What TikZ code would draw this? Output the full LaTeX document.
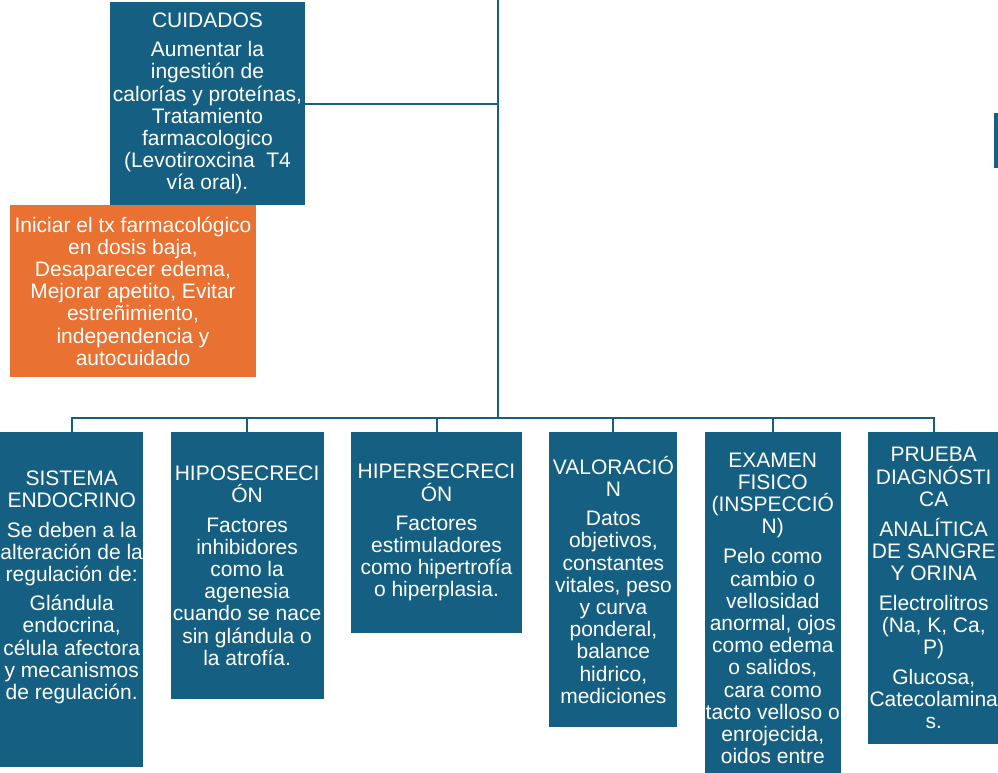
\documentclass[tikz,border=0pt]{standalone}
\usepackage{fontspec}
\setmainfont{Liberation Sans}
\usetikzlibrary{positioning}
\definecolor{accblue}{HTML}{156082}
\definecolor{accorange}{HTML}{E97132}

\begin{document}
\begin{tikzpicture}[x=1pt,y=-1pt,node distance=27pt,
  bluebox/.style={fill=accblue,text=white,align=center,inner sep=0pt,font=\fontsize{21}{22.2}\selectfont},
  orangebox/.style={bluebox,fill=accorange},
  link/.style={draw=accblue,line width=2pt}]

      \useasboundingbox (0,0) rectangle (998,772);

      \node[bluebox,minimum width=195pt,minimum height=203pt] (cui) at (207.5,103.5) {CUIDADOS\\[7pt]Aumentar la\\ingestión de\\calorías y proteínas,\\Tratamiento\\farmacologico\\(Levotiroxcina\ \ T4\\vía oral).};
      \node[orangebox,minimum width=246pt,minimum height=172pt] (meta) at (133,291) {Iniciar el tx farmacológico\\en dosis baja,\\Desaparecer edema,\\Mejorar apetito, Evitar\\estreñimiento,\\independencia y\\autocuidado};
      \node[bluebox,minimum width=20pt,minimum height=55pt,anchor=north west] (side) at (994,113) {};

      \node[bluebox,minimum width=143pt,minimum height=335pt,text depth=29pt,anchor=north west] (sis) at (0,432) {SISTEMA\\ENDOCRINO\\[7pt]Se deben a la\\alteración de la\\regulación de:\\[7pt]Glándula\\endocrina,\\célula afectora\\y mecanismos\\de regulación.};
      \node[bluebox,minimum width=153pt,minimum height=267pt,right=of sis.north east,anchor=north west] (hipo) {HIPOSECRECI\\ÓN\\[7pt]Factores\\inhibidores\\como la\\agenesia\\cuando se nace\\sin glándula o\\la atrofía.};
      \node[bluebox,minimum width=171pt,minimum height=201pt,right=of hipo.north east,anchor=north west] (hiper) {HIPERSECRECI\\ÓN\\[7pt]Factores\\estimuladores\\como hipertrofía\\o hiperplasia.};
      \node[bluebox,minimum width=128pt,minimum height=295pt,right=of hiper.north east,anchor=north west] (valo) {VALORACIÓ\\N\\[7pt]Datos\\objetivos,\\constantes\\vitales, peso\\y curva\\ponderal,\\balance\\hidrico,\\mediciones};
      \node[bluebox,minimum width=136pt,minimum height=352pt,right=of valo.north east,anchor=north west] (exam) {EXAMEN\\FISICO\\(INSPECCIÓ\\N)\\[8pt]Pelo como\\cambio o\\vellosidad\\anormal, ojos\\como edema\\o salidos,\\cara como\\tacto velloso o\\enrojecida,\\oidos entre};
      \node[bluebox,minimum width=131pt,minimum height=312pt,right=of exam.north east,anchor=north west] (prueba) {PRUEBA\\DIAGNÓSTI\\CA\\[7.5pt]ANALÍTICA\\DE SANGRE\\Y ORINA\\[7.5pt]Electrolitros\\(Na, K, Ca,\\P)\\[7.5pt]Glucosa,\\Catecolamina\\s.};

      \coordinate (root) at (498,-5);
      \coordinate (hub) at (498,418);
      \draw[link] (root) -- (hub);
      \draw[link] (cui.east) -- (cui.east -| root);
      \foreach \b in {sis,hipo,hiper,valo,exam,prueba}
        \draw[link] (hub) -| (\b.north);

    \end{tikzpicture}
\end{document}
